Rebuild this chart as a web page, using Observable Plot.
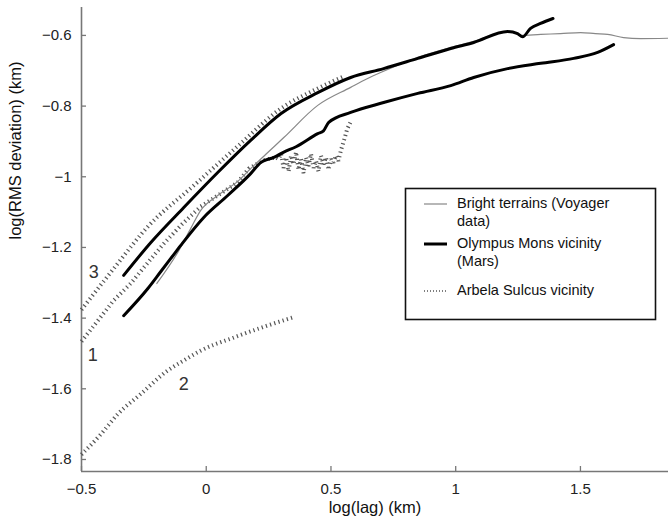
<!DOCTYPE html>
<html>
<head>
<meta charset="utf-8">
<script src="https://cdn.jsdelivr.net/npm/d3@7"></script>
<script src="https://cdn.jsdelivr.net/npm/@observablehq/plot@0.6"></script>
<style>
  body { margin: 0; background: #fff; }
  #wrap { position: relative; width: 668px; height: 523px; font-family: "Liberation Sans", Arial, sans-serif; }
  #wrap svg.overlay { position: absolute; left: 0; top: 0; pointer-events: none; }
</style>
</head>
<body>
<div id="wrap"></div>
<script>
// ---- axes ----
const xTicks = [-0.5, 0, 0.5, 1, 1.5];
const yTicks = [-1.8, -1.6, -1.4, -1.2, -1, -0.8, -0.6];
const xDomain = [-0.5, 1.853];
const yDomain = [-1.834, -0.521];
const xLabel = "log(lag) (km)";
const yLabel = "log(RMS deviation) (km)";

// ---- series: [log(lag), log(RMS deviation)] ----
const brightTerrains = [
  [-0.198,-1.302],[-0.110,-1.209],[-0.062,-1.146],[-0.022,-1.095],[0.046,-1.053],
  [0.126,-1.013],[0.178,-0.977],[0.238,-0.937],[0.311,-0.889],[0.447,-0.798],
  [0.579,-0.747],[0.647,-0.722],[0.699,-0.705],[0.848,-0.662],[0.980,-0.634],
  [1.072,-0.617],[1.208,-0.589],[1.240,-0.593],[1.261,-0.600],[1.341,-0.597],
  [1.420,-0.595],[1.501,-0.592],[1.560,-0.595],[1.609,-0.597],[1.673,-0.606],
  [1.741,-0.609],[1.849,-0.608]
];
const olympusUpper = [
  [-0.331,-1.279],[-0.222,-1.186],[-0.090,-1.087],[0.046,-0.988],[0.178,-0.897],
  [0.300,-0.821],[0.447,-0.762],[0.579,-0.719],[0.711,-0.694],[0.848,-0.665],
  [0.980,-0.637],[1.072,-0.620],[1.208,-0.589],[1.248,-0.595],[1.268,-0.604],
  [1.300,-0.580],[1.340,-0.566],[1.390,-0.552]
];
const olympusLower = [
  [-0.331,-1.393],[-0.234,-1.316],[-0.182,-1.268],[-0.142,-1.231],[-0.102,-1.194],
  [-0.010,-1.115],[0.086,-1.053],[0.178,-0.991],[0.218,-0.960],[0.271,-0.945],
  [0.311,-0.930],[0.360,-0.915],[0.447,-0.878],[0.470,-0.870],[0.491,-0.846],
  [0.579,-0.818],[0.711,-0.790],[0.848,-0.764],[0.980,-0.742],[1.072,-0.719],
  [1.208,-0.694],[1.341,-0.679],[1.473,-0.665],[1.569,-0.648],[1.633,-0.626]
];
const arbela1 = [
  [-0.500,-1.466],[-0.371,-1.350],[-0.303,-1.302],[-0.234,-1.243],[-0.170,-1.189],
  [-0.098,-1.135],[-0.022,-1.084],[0.046,-1.053],[0.126,-1.016],[0.170,-0.977],
  [0.226,-0.954],[0.279,-0.945],
  [0.29,-0.950],[0.30,-0.935],[0.31,-0.975],[0.32,-0.945],[0.33,-0.985],[0.34,-0.940],
  [0.35,-0.965],[0.36,-0.930],[0.37,-0.980],[0.38,-0.950],[0.39,-0.990],[0.40,-0.945],
  [0.41,-0.970],[0.42,-0.935],[0.43,-0.975],[0.44,-0.955],[0.45,-0.985],[0.46,-0.940],
  [0.47,-0.965],[0.48,-0.945],[0.49,-0.980],[0.50,-0.950],[0.51,-0.960],[0.52,-0.940],
  [0.53,-0.955],[0.54,-0.925],[0.555,-0.890],[0.565,-0.865],[0.580,-0.843]
];
const arbela2 = [
  [-0.500,-1.786],[-0.423,-1.729],[-0.355,-1.672],[-0.263,-1.615],[-0.154,-1.548],
  [-0.090,-1.520],[-0.022,-1.492],[0.110,-1.455],[0.246,-1.421],[0.347,-1.398]
];
const arbela3 = [
  [-0.500,-1.376],[-0.371,-1.260],[-0.234,-1.141],[-0.050,-1.025],[0.138,-0.906],
  [0.299,-0.807],[0.447,-0.750],[0.551,-0.716]
];
const curveLabels = [
  ["1", -0.455, -1.506],
  ["2", -0.090, -1.588],
  ["3", -0.451, -1.271]
];
const legendItems = [
  ["Bright terrains (Voyager", "data)"],
  ["Olympus Mons vicinity", "(Mars)"],
  ["Arbela Sulcus vicinity"]
];

const X = d => d[0], Y = d => d[1];
const fmt = d => String(d).replace("-", "\u2212");
const dotted = {stroke: "#555", strokeWidth: 4, strokeDasharray: "1.2,3.2", strokeLinecap: "butt", strokeLinejoin: "miter"};
// inward tick length in data units (5px)
const xTickLen = (yDomain[1] - yDomain[0]) * 5 / 464;
const yTickLen = (xDomain[1] - xDomain[0]) * 5 / 587;

const chart = Plot.plot({
  width: 668,
  height: 523,
  marginLeft: 81,
  marginRight: 0,
  marginTop: 7,
  marginBottom: 52,
  style: {fontFamily: '"Liberation Sans", Arial, sans-serif', fontSize: "15px", background: "#fff", color: "#222"},
  x: {domain: xDomain},
  y: {domain: yDomain},
  marks: [
    Plot.axisX(xTicks, {tickSize: 0, tickPadding: 12, fill: "#222", fontSize: 15, label: null, tickFormat: fmt}),
    Plot.axisY(yTicks, {tickSize: 0, tickPadding: 10, fill: "#222", fontSize: 15, label: null, tickFormat: fmt}),
    Plot.ruleX(xTicks, {x: d => d, y1: yDomain[0], y2: yDomain[0] + xTickLen, stroke: "#777", strokeWidth: 1.3}),
    Plot.ruleY(yTicks, {y: d => d, x1: xDomain[0], x2: xDomain[0] + yTickLen, stroke: "#777", strokeWidth: 1.3}),
    Plot.ruleX([xDomain[0]], {stroke: "#777", strokeWidth: 1.6}),
    Plot.ruleY([yDomain[0]], {stroke: "#777", strokeWidth: 1.6}),
    Plot.line(arbela1, {x: X, y: Y, ...dotted}),
    Plot.line(arbela2, {x: X, y: Y, curve: "monotone-x", ...dotted}),
    Plot.line(arbela3, {x: X, y: Y, curve: "monotone-x", ...dotted}),
    Plot.line(brightTerrains, {x: X, y: Y, stroke: "#888", strokeWidth: 1.2, curve: "monotone-x"}),
    Plot.line(olympusUpper, {x: X, y: Y, stroke: "#000", strokeWidth: 3, curve: "monotone-x"}),
    Plot.line(olympusLower, {x: X, y: Y, stroke: "#000", strokeWidth: 3, curve: "monotone-x"}),
    Plot.text(curveLabels, {x: d => d[1], y: d => d[2], text: d => d[0], fontSize: 18, fill: "#333"}),
    Plot.text([xLabel], {text: d => d, frameAnchor: "bottom", dy: 41, fontSize: 16.5, fill: "#111"}),
    Plot.text([yLabel], {text: d => d, frameAnchor: "left", dx: -66, rotate: -90, fontSize: 16.5, fill: "#111"})
  ]
});

const wrap = document.getElementById("wrap");
wrap.appendChild(chart);

// ---- legend (overlay) ----
const svg = d3.create("svg").attr("class", "overlay").attr("width", 668).attr("height", 523)
  .attr("font-family", '"Liberation Sans", Arial, sans-serif');
const box = {x: 405, y: 188, w: 250, h: 131};
svg.append("rect").attr("x", box.x + 0.5).attr("y", box.y + 0.5).attr("width", box.w).attr("height", box.h)
  .attr("fill", "#fff").attr("stroke", "#111").attr("stroke-width", 1.6);
const rowY = [203, 243, 290];
const sampleStyles = [
  {stroke: "#888", width: 1.2, dash: null},
  {stroke: "#000", width: 3, dash: null},
  {stroke: "#555", width: 1.3, dash: "1,2"}
];
legendItems.forEach((lines, i) => {
  const s = sampleStyles[i];
  svg.append("line").attr("x1", 424).attr("x2", 447).attr("y1", rowY[i] + 1).attr("y2", rowY[i] + 1)
    .attr("stroke", s.stroke).attr("stroke-width", s.width).attr("stroke-dasharray", s.dash);
  lines.forEach((t, j) => {
    svg.append("text").attr("x", 457).attr("y", rowY[i] + j * 17.5).attr("dy", "0.35em")
      .attr("font-size", 14.5).attr("fill", "#111").text(t);
  });
});
wrap.appendChild(svg.node());
</script>
</body>
</html>
